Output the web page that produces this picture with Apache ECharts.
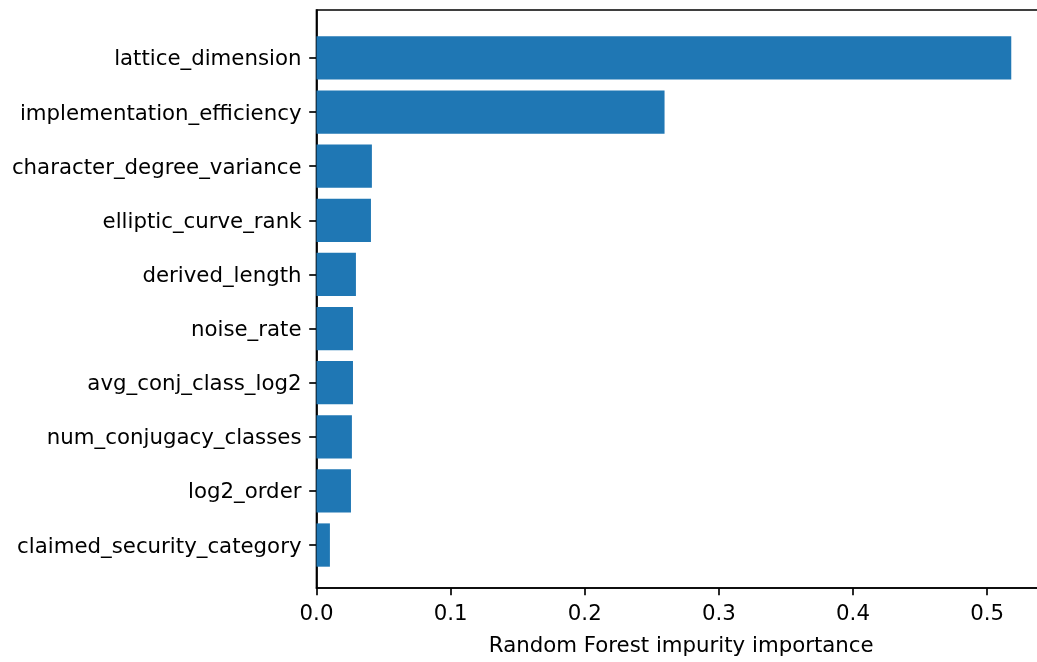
<!DOCTYPE html>
<html>
<head>
<meta charset="utf-8">
<title>Random Forest impurity importance</title>
<script src="https://cdn.jsdelivr.net/npm/echarts@6/dist/echarts.min.js"></script>
<style>
  html, body { margin: 0; padding: 0; background: #ffffff; overflow: hidden; }
  /* the plot frame runs a little past the right edge of the page */
  #chart { width: 1046px; height: 662px; }
</style>
</head>
<body>
<div id="chart"></div>
<script>
// Feature names, listed bottom to top as they appear on the y axis
const features = [
  'claimed_security_category',
  'log2_order',
  'num_conjugacy_classes',
  'avg_conj_class_log2',
  'noise_rate',
  'derived_length',
  'elliptic_curve_rank',
  'character_degree_variance',
  'implementation_efficiency',
  'lattice_dimension'
];

// Impurity importance for each feature (same order)
const importance = [0.0100, 0.0257, 0.0264, 0.0272, 0.0272, 0.0294, 0.0406, 0.0413, 0.2595, 0.518];

// X axis tick values
const xTicks = [0.0, 0.1, 0.2, 0.3, 0.4, 0.5];

const FONT = 'DejaVu Sans';
const FS = 21.3;
const LW = 1.67;
const xMax = Math.max(...importance) * 1.05;

const chart = echarts.init(document.getElementById('chart'), null, { renderer: 'canvas' });

chart.setOption({
  backgroundColor: '#ffffff',
  animation: false,
  textStyle: { fontFamily: FONT },
  grid: [
    // bars and category ticks
    { left: 316.5, right: 0, top: 30.9, bottom: 89.9, containLabel: false },
    // axes frame with value ticks
    { left: 316.5, right: 0, top: 10, bottom: 70, containLabel: false,
      show: true, borderColor: '#000000', borderWidth: LW, backgroundColor: 'transparent' }
  ],
  xAxis: [
    { type: 'value', gridIndex: 0, min: 0, max: xMax, show: false },
    {
      type: 'value', gridIndex: 1, min: 0, max: xMax, interval: 0.1,
      name: 'Random Forest impurity importance',
      nameLocation: 'middle', nameGap: 48,
      nameTextStyle: { fontFamily: FONT, fontSize: FS, color: '#000000' },
      axisLine: { show: true, lineStyle: { color: '#000000', width: LW } },
      axisTick: { show: true, length: 7.3, lineStyle: { color: '#000000', width: LW } },
      axisLabel: {
        show: true, margin: 16, fontFamily: FONT, fontSize: FS, color: '#000000',
        showMaxLabel: false,
        formatter: function (v) {
          const hit = xTicks.find(t => Math.abs(t - v) < 1e-9);
          return hit === undefined ? '' : hit.toFixed(1);
        }
      },
      splitLine: { show: false }
    }
  ],
  yAxis: [
    {
      type: 'category', gridIndex: 0, data: features,
      axisLine: { show: false },
      axisTick: { show: true, alignWithLabel: true, length: 7.3, lineStyle: { color: '#000000', width: LW } },
      axisLabel: {
        show: true, margin: 15, color: '#000000',
        formatter: function (v) { return '{n|' + v + '}'; },
        rich: { n: { fontFamily: FONT, fontSize: FS, color: '#000000', padding: [4, 0, 0, 0] } }
      },
      splitLine: { show: false }
    },
    {
      type: 'value', gridIndex: 1, min: 0, max: 1,
      axisLine: { show: true, lineStyle: { color: '#000000', width: LW } },
      axisTick: { show: false },
      axisLabel: { show: false },
      splitLine: { show: false }
    }
  ],
  series: [
    {
      type: 'bar',
      xAxisIndex: 0,
      yAxisIndex: 0,
      data: importance,
      barWidth: '80%',
      itemStyle: { color: '#1f77b4' }
    }
  ]
});
</script>
</body>
</html>
